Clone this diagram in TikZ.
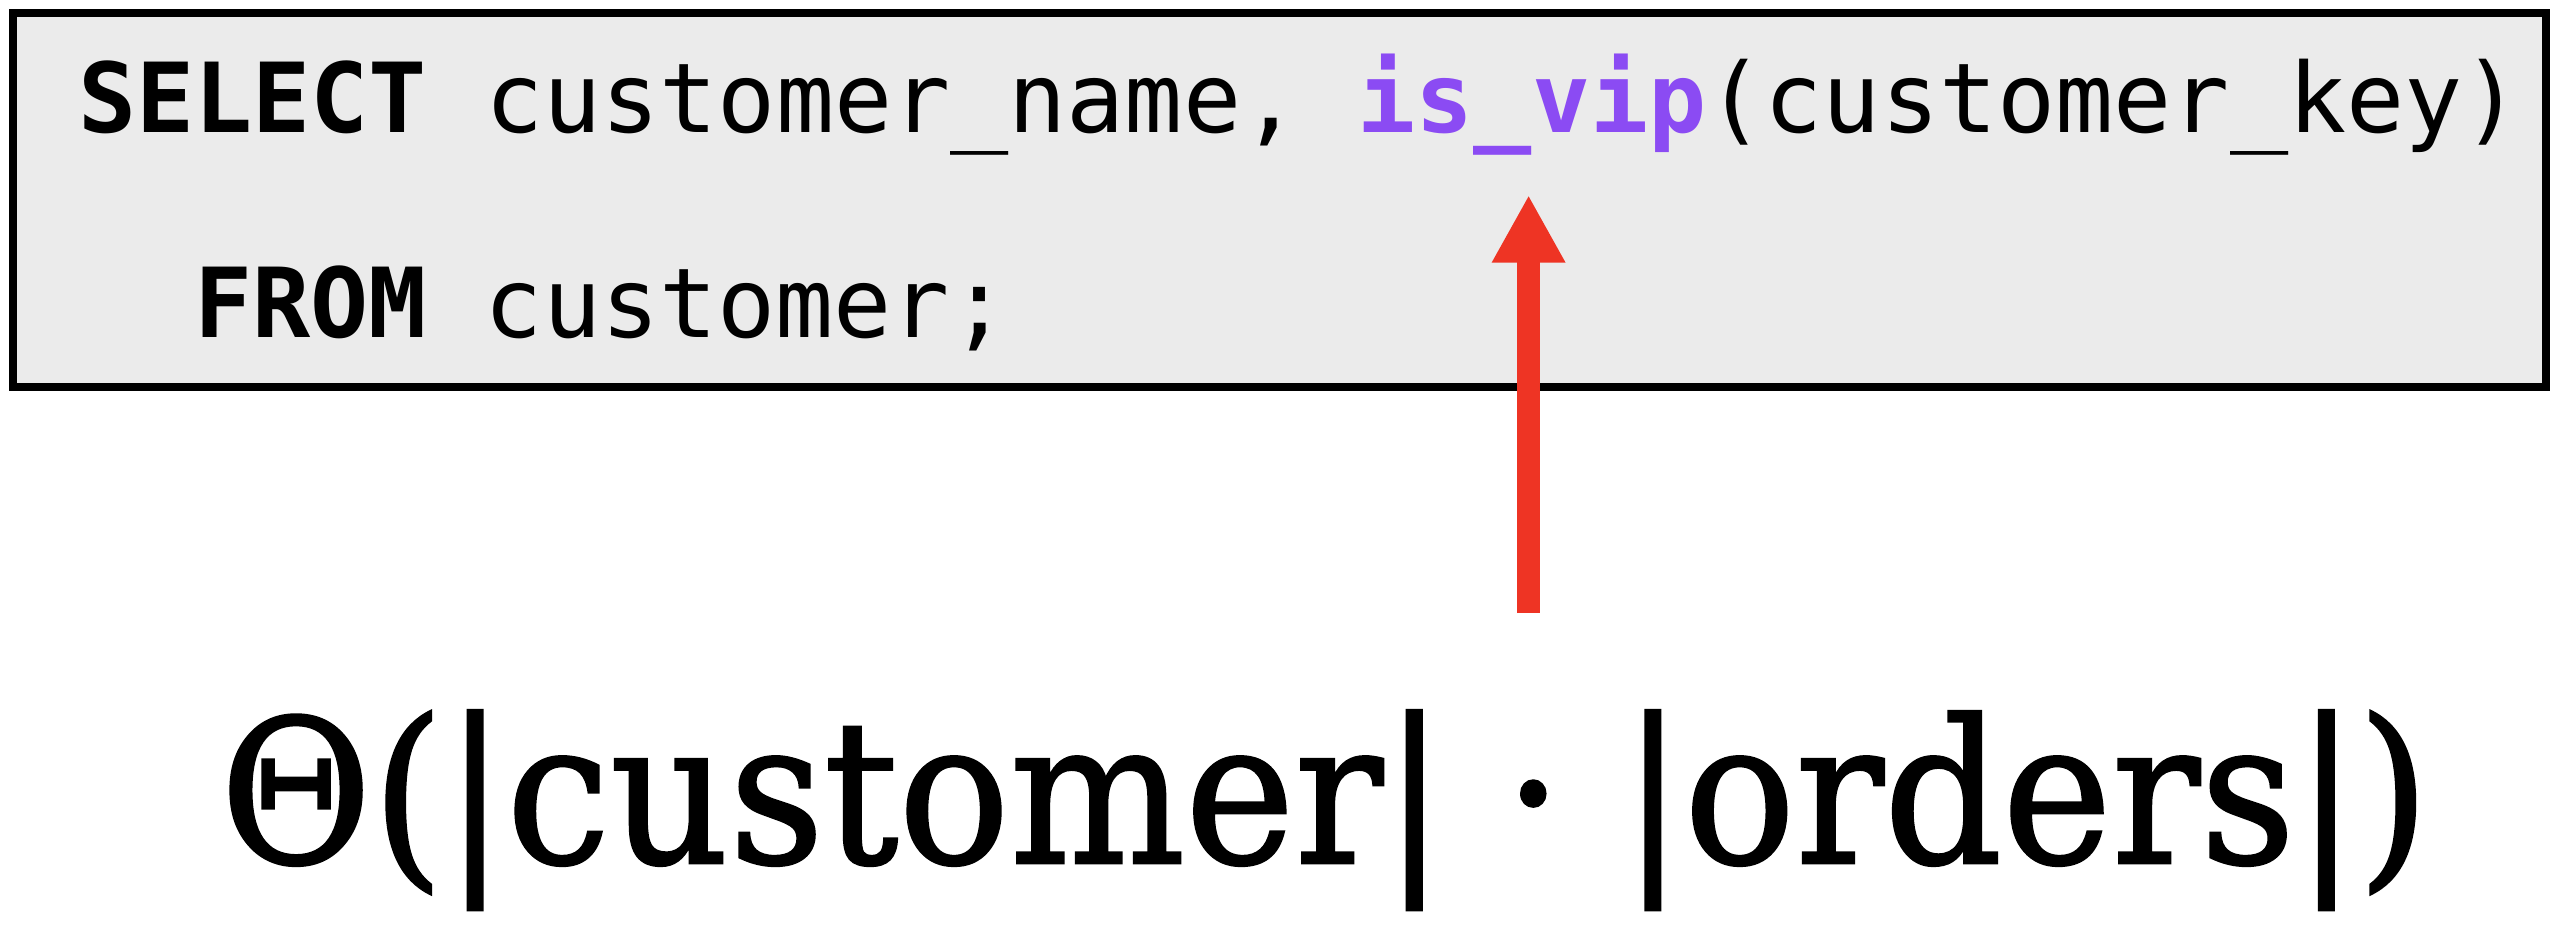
\documentclass[tikz,border=0pt]{standalone}
\usepackage{fontspec}
\setmonofont{DejaVu Sans Mono}
\newfontfamily\formulafont[FakeBold=1.3]{DejaVu Serif}
\usetikzlibrary{arrows.meta}
\definecolor{boxgray}{HTML}{EBEBEB}
\definecolor{vippurple}{HTML}{8B4BF3}
\definecolor{arrowred}{HTML}{EE3424}
\tikzset{
  codeline/.style={anchor=base west, inner sep=0pt, font=\fontsize{96.6}{115}\selectfont\ttfamily},
  cplx/.style={anchor=base, inner sep=0pt, font=\fontsize{200}{240}\selectfont\formulafont},
  pointer/.style={draw=arrowred, line width=22.7pt,
    -{Triangle[length=67.7pt,width=68.7pt]}}
}
\begin{document}
\begin{tikzpicture}[x=1pt,y=-1pt]
\useasboundingbox (0,0) rectangle (2552,946);
\node[draw=black, fill=boxgray, line width=8pt, minimum width=2533pt, minimum height=373.5pt, inner sep=0pt, anchor=north west] (box) at (9,9) {};
\node[codeline] (l1) at (78,132) {\textbf{SELECT} customer\_name, \textcolor{vippurple}{\textbf{is\_vip}}(customer\_key)};
\node[codeline] (l2) at (193.9,337) {\textbf{FROM} customer;};
\node[cplx, xscale=0.925] (cx) at (1325,863) {Θ(|customer| · |orders|)};
\coordinate (tail) at (1528.6,613);
\coordinate (tip) at (1528.6,195);
\draw[pointer] (tail) -- (tip);
\end{tikzpicture}
\end{document}
